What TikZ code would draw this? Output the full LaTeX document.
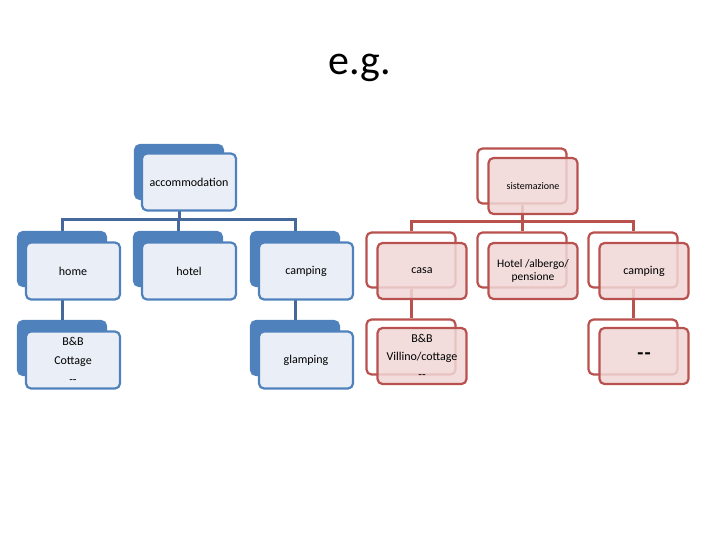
\documentclass[tikz,border=0pt]{standalone}
\usepackage{fontspec}
\setmainfont{Carlito}
\begin{document}
\begin{tikzpicture}[x=1pt,y=-1pt,
  bback/.style={draw=bluel,fill=bluel,line width=2.2pt,rounded corners=5pt,minimum width=88pt,minimum height=54pt,inner sep=0pt},
  bfront/.style={draw=bluel,fill=bluef,line width=2.2pt,rounded corners=5pt,minimum width=94pt,minimum height=57pt,font=\fontsize{12}{13}\selectfont,align=center,inner sep=0pt},
  rback/.style={draw=redl,fill=white,line width=2.2pt,rounded corners=5pt,minimum width=89pt,minimum height=55pt,inner sep=0pt},
  rfront/.style={draw=redl,fill=redf,fill opacity=0.85,text opacity=1,line width=2.2pt,rounded corners=5pt,minimum width=89pt,minimum height=56pt,font=\fontsize{12}{13}\selectfont,align=center,inner sep=0pt},
  bconn/.style={draw=bluec,line width=3pt},
  rconn/.style={draw=redl,line width=3pt}]
\definecolor{bluel}{HTML}{4F81BD}
\definecolor{bluec}{HTML}{44699A}
\definecolor{bluef}{HTML}{EAEFF7}
\definecolor{redl}{HTML}{B9514F}
\definecolor{redf}{HTML}{F0D7D6}
\useasboundingbox (0,0) rectangle (720,540);
\node[font=\fontsize{42}{44}\selectfont] (title) at (360,68) {e.g.};
% left back boxes
\node[bback] (accB) at (179,172) {};
\node[bback] (homeB) at (62,259) {};
\node[bback] (hotelB) at (178,259) {};
\node[bback] (campB) at (295,259) {};
\node[bback] (bbB) at (62,348) {};
\node[bback] (glampB) at (295,348) {};
% left connectors
\coordinate (lj) at (179,220);
\draw[bconn] (accB.south) -- (lj);
\draw[bconn] (homeB.north) |- (lj) -| (campB.north);
\draw[bconn] (hotelB.north) -- (hotelB.north |- lj);
\draw[bconn] (homeB.south) -- (bbB.north);
\draw[bconn] (campB.south) -- (glampB.north);
% left front boxes
\node[bfront] (acc) at (189,182) {accommodation};
\node[bfront] (home) at (73,271) {home};
\node[bfront] (hotel) at (189,271) {hotel};
\node[bfront] (camp) at (306,271) {camping};
\node[bfront] (bb) at (73,360) {B\&B\\[6pt]Cottage\\[6pt]{-}{-}};
\node[bfront] (glamp) at (306,360) {glamping};
% right back boxes
\node[rback] (sisB) at (522,176) {};
\node[rback] (casaB) at (411,260) {};
\node[rback] (hotRB) at (522,260) {};
\node[rback] (campRB) at (633,260) {};
\node[rback] (vilB) at (411,347) {};
\node[rback] (dashB) at (633,347) {};
% right connectors
\coordinate (rj) at (522,222);
\draw[rconn] (sisB.south) -- (rj);
\draw[rconn] (casaB.north) |- (rj) -| (campRB.north);
\draw[rconn] (hotRB.north) -- (hotRB.north |- rj);
\draw[rconn] (casaB.south) -- (vilB.north);
\draw[rconn] (campRB.south) -- (dashB.north);
% right front boxes
\node[rfront,font=\fontsize{10}{11}\selectfont] (sis) at (533,186) {sistemazione};
\node[rfront] (casa) at (422,271) {casa};
\node[rfront,font=\fontsize{11.5}{13}\selectfont] (hotR) at (533,271) {Hotel /albergo/\\pensione};
\node[rfront] (campR) at (644,271) {camping};
\node[rfront] (vil) at (422,356) {B\&B\\[5pt]Villino/cottage\\[5pt]{-}{-}};
\node[rfront,font=\bfseries\fontsize{20}{22}\selectfont] (dash) at (644,356) {\raisebox{-5pt}{{-}\kern1pt{-}}};
\end{tikzpicture}
\end{document}
